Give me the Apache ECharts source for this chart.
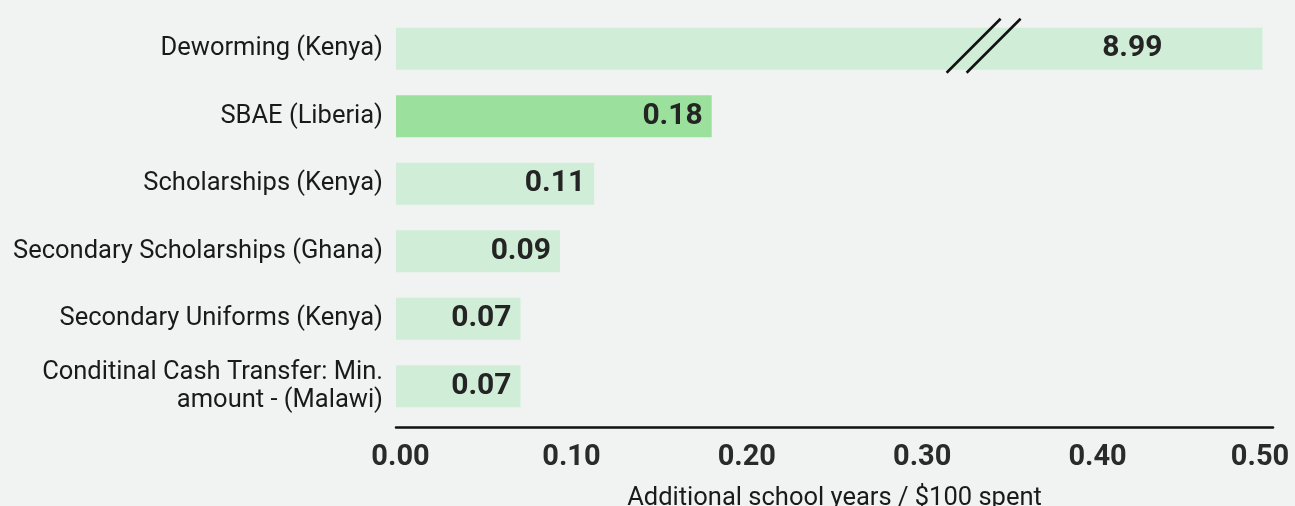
<!DOCTYPE html>
<html>
<head>
<meta charset="utf-8">
<script src="https://cdn.jsdelivr.net/npm/echarts@6/dist/echarts.min.js"></script>
<style>
html,body{margin:0;padding:0;background:#f1f3f2;}
#chart{width:1295px;height:506px;}
</style>
</head>
<body>
<div id="chart"></div>
<script>
const categories = [
  'Deworming (Kenya)',
  'SBAE (Liberia)',
  'Scholarships (Kenya)',
  'Secondary Scholarships (Ghana)',
  'Secondary Uniforms (Kenya)',
  'Conditinal Cash Transfer: Min.\namount - (Malawi)'
];
const values = [8.99, 0.18, 0.113, 0.0935, 0.071, 0.071];
const highlight = [false, true, false, false, false, false];
const axisCap = 0.494;          // broken bar is drawn up to this value
const breakAt = 0.335;          // where the break marks sit on the broken bar
const xTicks = [0, 0.1, 0.2, 0.3, 0.4, 0.5];

const FONT = 'Roboto';
const chart = echarts.init(document.getElementById('chart'));

const data = values.map((v, i) => ({
  value: Math.min(v, axisCap),
  text: v.toFixed(2),
  broken: v > axisCap,
  color: highlight[i] ? '#9be09c' : '#d0eed7'
}));

const tickStyle = { fontFamily: FONT, fontWeight: 'bold', fontSize: 29, color: '#2a2a2a' };

chart.setOption({
  backgroundColor: '#f1f3f2',
  animation: false,
  grid: { left: 396, right: 22, top: 15, bottom: 86, outerBoundsMode: 'none', containLabel: false },
  xAxis: {
    type: 'value',
    min: xTicks[0],
    max: xTicks[xTicks.length - 1],
    interval: 0.1,
    offset: 7,
    axisLine: { show: true, lineStyle: { color: '#111', width: 2.5 } },
    axisTick: { show: false },
    splitLine: { show: false },
    axisLabel: {
      formatter: v => {
        const s = v.toFixed(2);
        if (v === xTicks[0]) return '{first|' + s + '}';
        if (v === xTicks[xTicks.length - 1]) return '{last|' + s + '}';
        return s;
      },
      rich: {
        first: Object.assign({ padding: [0, 0, 0, 9] }, tickStyle),
        last: Object.assign({ padding: [0, 26, 0, 0] }, tickStyle)
      },
      ...tickStyle,
      margin: 16
    },
    name: 'Additional school years / $100 spent',
    nameLocation: 'middle',
    nameGap: 59,
    nameTextStyle: { fontFamily: FONT, fontSize: 25.5, color: '#1a1a1a' }
  },
  yAxis: {
    type: 'category',
    data: categories,
    inverse: true,
    axisLine: { show: false },
    axisTick: { show: false },
    axisLabel: {
      fontFamily: FONT, fontSize: 25.5, color: '#1a1a1a', margin: 13,
      lineHeight: 28, align: 'right'
    }
  },
  series: [{
    type: 'bar',
    barWidth: 42,
    data: data.map(d => ({
      value: d.value,
      itemStyle: { color: d.color },
      label: {
        show: true,
        position: 'insideRight',
        distance: d.broken ? 100 : 9,
        formatter: d.text,
        fontFamily: FONT, fontWeight: 'bold', fontSize: 30, color: '#242424'
      }
    }))
  }]
});

// break marks on the broken bar
const brokenIdx = data.findIndex(d => d.broken);
if (brokenIdx >= 0) {
  const p = chart.convertToPixel({ gridIndex: 0 }, [breakAt, categories[brokenIdx]]);
  const cx = p[0], cy = p[1] - 3;
  const half = 27, gap = 10;
  chart.setOption({
    graphic: [-gap, gap].map(dx => ({
      type: 'line',
      shape: { x1: cx + dx - half, y1: cy + half, x2: cx + dx + half, y2: cy - half },
      style: { stroke: '#111', lineWidth: 2.5 },
      z: 100
    }))
  });
}
</script>
</body>
</html>
